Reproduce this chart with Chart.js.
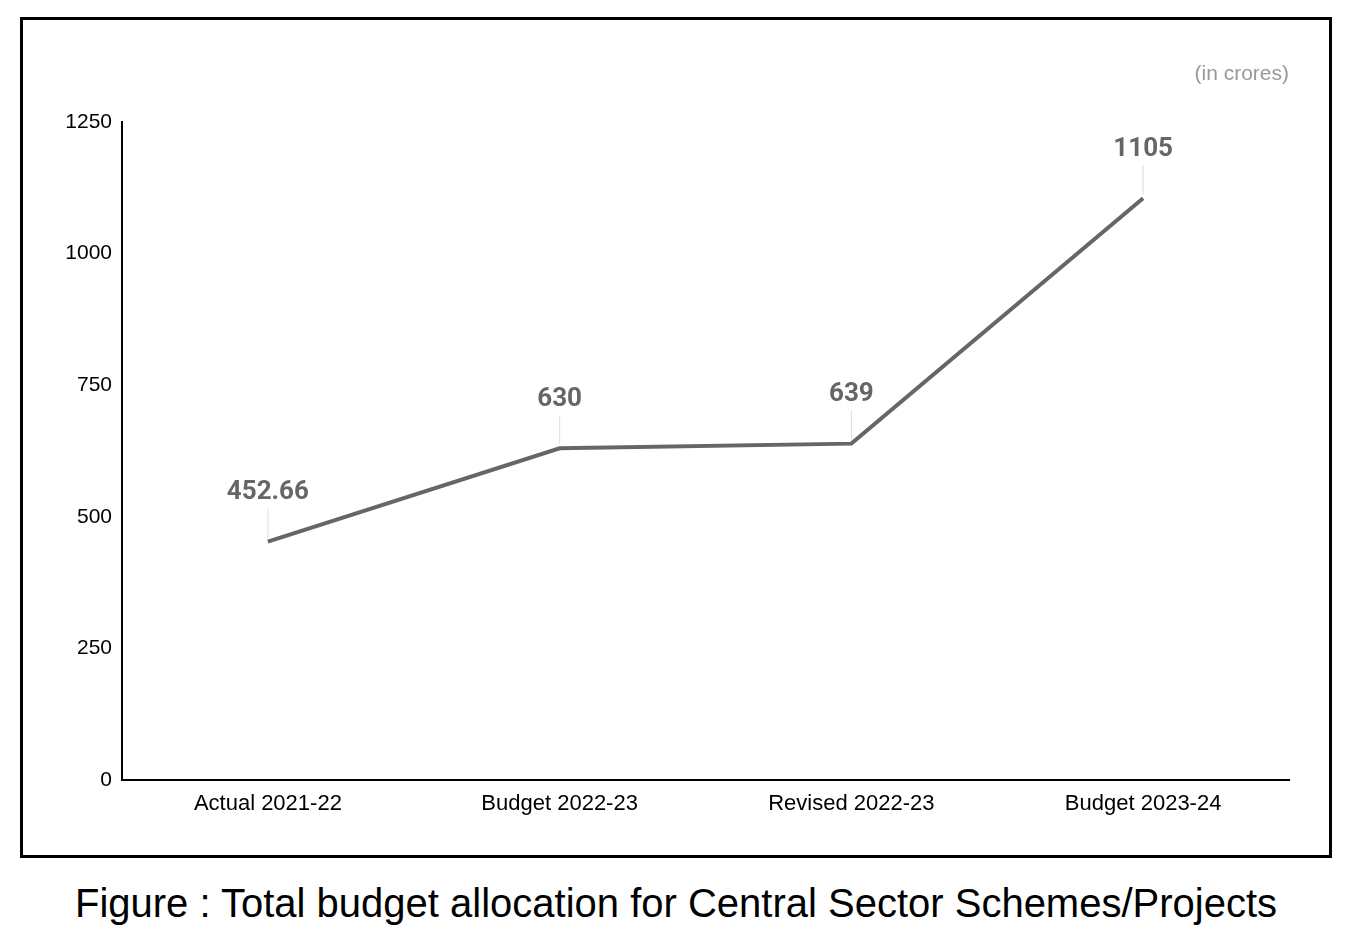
<!DOCTYPE html>
<html>
<head>
<meta charset="utf-8">
<script src="https://cdn.jsdelivr.net/npm/chart.js@4/dist/chart.umd.min.js"></script>
<style>
  body { margin: 0; background: #fff; width: 1352px; height: 934px; position: relative; font-family: "Liberation Sans", Arial, sans-serif; }
  .box { position: absolute; left: 20px; top: 17px; width: 1306px; height: 835px; border: 3px solid #000; }
  .units { position: absolute; right: 40px; top: 41px; font-size: 21px; color: #999; }
  .caption { position: absolute; left: 0; width: 1352px; top: 880px; text-align: center; font-size: 40px; line-height: 46px; color: #000; }
  canvas { display: block; }
</style>
</head>
<body>
<div class="box">
  <canvas id="budgetChart" width="1306" height="835"></canvas>
  <div class="units">(in crores)</div>
</div>
<div class="caption">Figure : Total budget allocation for Central Sector Schemes/Projects</div>
<script>
// Datos del gráfico
const categorias = ['Actual 2021-22', 'Budget 2022-23', 'Revised 2022-23', 'Budget 2023-24'];
const valores = [452.66, 630, 639, 1105];
const etiquetas = ['452.66', '630', '639', '1105'];

// Etiquetas de valor con línea guía
const etiquetasPlugin = {
  id: 'etiquetas',
  afterDatasetsDraw(chart) {
    const ctx = chart.ctx;
    const puntos = chart.getDatasetMeta(0).data;
    ctx.save();
    puntos.forEach((p, i) => {
      ctx.strokeStyle = '#dddddd';
      ctx.lineWidth = 1;
      ctx.beginPath();
      ctx.moveTo(p.x, p.y - 4);
      ctx.lineTo(p.x, p.y - 33);
      ctx.stroke();
      ctx.fillStyle = '#666666';
      ctx.font = 'bold 26px Roboto, "Noto Sans", sans-serif';
      ctx.textAlign = 'center';
      ctx.textBaseline = 'middle';
      ctx.fillText(etiquetas[i], p.x, p.y - 49);
    });
    ctx.restore();
  }
};

const ctx = document.getElementById('budgetChart').getContext('2d');
const budgetChart = new Chart(ctx, {
  type: 'line',
  data: {
    labels: categorias,
    datasets: [{
      data: valores,
      borderColor: '#666666',
      borderWidth: 4,
      pointRadius: 0,
      tension: 0,
      fill: false
    }]
  },
  options: {
    responsive: false,
    animation: false,
    layout: { padding: { top: 102, right: 40, left: 0, bottom: 0 } },
    plugins: {
      legend: { display: false },
      tooltip: { enabled: false }
    },
    scales: {
      x: {
        offset: true,
        grid: { display: false, drawTicks: false },
        border: { display: true, color: '#000', width: 2 },
        ticks: { color: '#000', font: { size: 22, family: '"Liberation Sans", Arial, sans-serif' }, padding: 11, maxRotation: 0 },
        afterFit(scale) { scale.height = 75; }
      },
      y: {
        min: 0,
        max: 1250,
        ticks: {
          stepSize: 250,
          color: '#000',
          font: { size: 21, family: '"Liberation Sans", Arial, sans-serif' },
          padding: 10,
          callback: v => String(v)
        },
        grid: { display: false, drawTicks: false },
        border: { display: true, color: '#000', width: 2 },
        afterFit(scale) { scale.width = 99; }
      }
    }
  },
  plugins: [etiquetasPlugin]
});
</script>
</body>
</html>
